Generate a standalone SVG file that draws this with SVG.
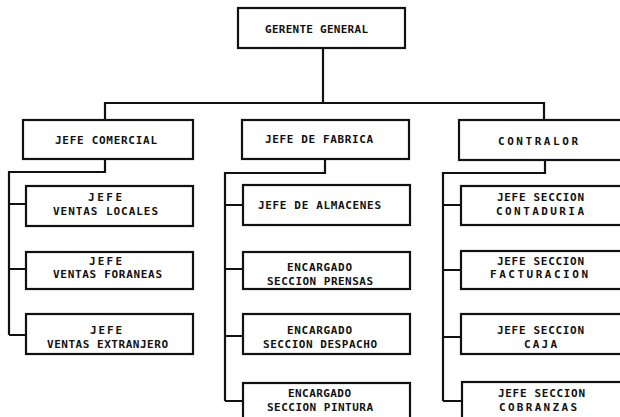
<svg xmlns="http://www.w3.org/2000/svg" width="620" height="417" viewBox="0 0 620 417">
<style>
.box{fill:#fff;stroke:#111;stroke-width:2.2}
.con{fill:none;stroke:#111;stroke-width:2.2;stroke-linejoin:miter}
text{font-family:"DejaVu Sans Mono","Liberation Mono",monospace;font-weight:bold;font-size:11px;fill:#111}
</style>
<rect width="620" height="417" fill="#fff"/>
<g id="connectors">
<path class="con" d="M323 48V103M105 120V103H544V120"/>
<path class="con" d="M105 159V172H9V335M9 204H26M9 269H26M9 335H26"/>
<path class="con" d="M325 159V173H225V401M225 205H243M225 269H243M225 336H243M225 401H243"/>
<path class="con" d="M545 160V173H443V401M443 205H461M443 270H461M443 337H461M443 401H462"/>
</g>
<g id="gerente"><rect class="box" x="238" y="8" width="167" height="40"/><text x="265" y="33" textLength="103" lengthAdjust="spacing">GERENTE GENERAL</text></g>
<g id="comercial"><rect class="box" x="23" y="120" width="170" height="39"/><text x="55" y="144" textLength="102" lengthAdjust="spacing">JEFE COMERCIAL</text></g>
<g id="fabrica"><rect class="box" x="242" y="120" width="167" height="39"/><text x="265" y="143" textLength="108" lengthAdjust="spacing">JEFE DE FABRICA</text></g>
<g id="contralor"><rect class="box" x="459" y="120" width="170" height="40"/><text x="498" y="145" textLength="80" lengthAdjust="spacing">CONTRALOR</text></g>
<g id="locales"><rect class="box" x="26" y="186" width="167" height="40"/><text x="88" y="201" textLength="34" lengthAdjust="spacing">JEFE</text><text x="53" y="215" textLength="105" lengthAdjust="spacing">VENTAS LOCALES</text></g>
<g id="foraneas"><rect class="box" x="26" y="252" width="167" height="37"/><text x="89" y="265" textLength="33" lengthAdjust="spacing">JEFE</text><text x="53" y="278" textLength="109" lengthAdjust="spacing">VENTAS FORANEAS</text></g>
<g id="extranjero"><rect class="box" x="26" y="314" width="167" height="40"/><text x="90" y="334" textLength="32" lengthAdjust="spacing">JEFE</text><text x="47" y="348" textLength="121" lengthAdjust="spacing">VENTAS EXTRANJERO</text></g>
<g id="almacenes"><rect class="box" x="243" y="185" width="167" height="40"/><text x="258" y="209" textLength="123" lengthAdjust="spacing">JEFE DE ALMACENES</text></g>
<g id="prensas"><rect class="box" x="243" y="252" width="167" height="37"/><text x="287" y="271" textLength="65" lengthAdjust="spacing">ENCARGADO</text><text x="267" y="285" textLength="106" lengthAdjust="spacing">SECCION PRENSAS</text></g>
<g id="despacho"><rect class="box" x="243" y="314" width="167" height="40"/><text x="287" y="334" textLength="65" lengthAdjust="spacing">ENCARGADO</text><text x="263" y="348" textLength="114" lengthAdjust="spacing">SECCION DESPACHO</text></g>
<g id="pintura"><rect class="box" x="243" y="383" width="167" height="40"/><text x="288" y="397" textLength="63" lengthAdjust="spacing">ENCARGADO</text><text x="267" y="411" textLength="106" lengthAdjust="spacing">SECCION PINTURA</text></g>
<g id="contaduria"><rect class="box" x="461" y="186" width="170" height="39"/><text x="497" y="201" textLength="87" lengthAdjust="spacing">JEFE SECCION</text><text x="496" y="215" textLength="88" lengthAdjust="spacing">CONTADURIA</text></g>
<g id="facturacion"><rect class="box" x="461" y="251" width="170" height="38"/><text x="497" y="265" textLength="87" lengthAdjust="spacing">JEFE SECCION</text><text x="490" y="278" textLength="98" lengthAdjust="spacing">FACTURACION</text></g>
<g id="caja"><rect class="box" x="461" y="314" width="170" height="40"/><text x="497" y="334" textLength="87" lengthAdjust="spacing">JEFE SECCION</text><text x="524" y="348" textLength="33" lengthAdjust="spacing">CAJA</text></g>
<g id="cobranzas"><rect class="box" x="462" y="382" width="170" height="40"/><text x="498" y="397" textLength="87" lengthAdjust="spacing">JEFE SECCION</text><text x="499" y="411" textLength="78" lengthAdjust="spacing">COBRANZAS</text></g>
</svg>
